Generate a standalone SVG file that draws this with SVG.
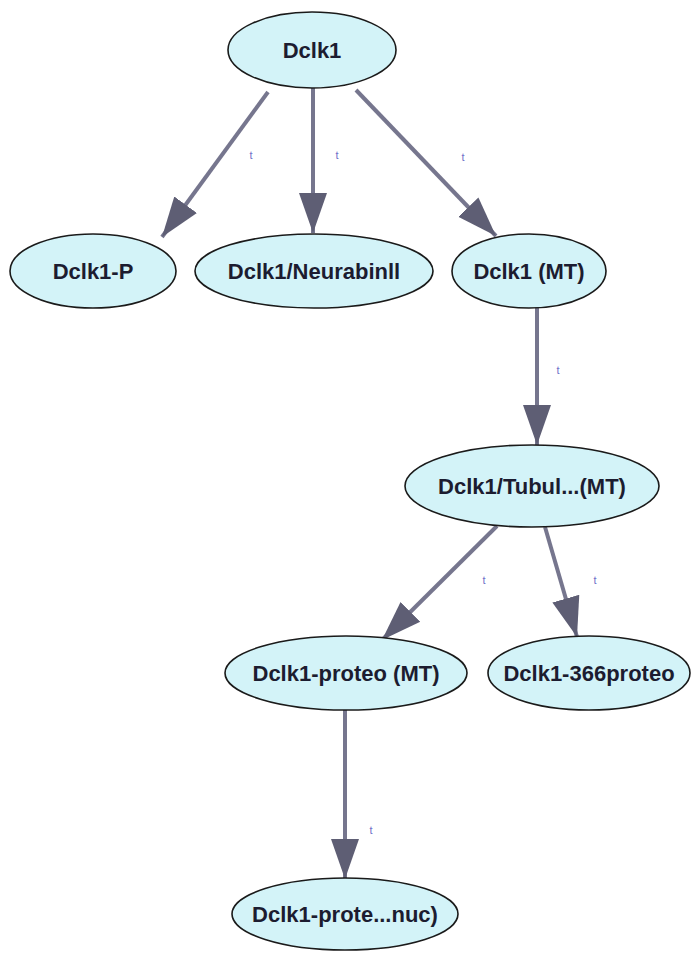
<svg xmlns="http://www.w3.org/2000/svg" width="695" height="953" viewBox="0 0 695 953">
<style>
.node ellipse{fill:#d3f3f8;stroke:#1a1a1a;stroke-width:1.6}
.node text{font-family:"Liberation Sans",Arial,sans-serif;font-weight:bold;font-size:22px;fill:#1c1c30;text-anchor:middle}
.edge{stroke:#76768e;stroke-width:4;fill:none}
.lbl{font-family:"Liberation Sans",Arial,sans-serif;font-size:11px;fill:#7070c8;text-anchor:middle}
</style>
<defs>
<marker id="arr" markerUnits="userSpaceOnUse" markerWidth="42" markerHeight="32" refX="40" refY="15" orient="auto" viewBox="0 0 42 30">
<path d="M0,1 L40,15 L0,29 Z" fill="#5e5e74"/>
</marker>
</defs>
<rect width="695" height="953" fill="#ffffff"/>
<g id="connectors">
<line class="edge" x1="268" y1="92" x2="162" y2="237" marker-end="url(#arr)"/>
<line class="edge" x1="313" y1="88" x2="313" y2="233" marker-end="url(#arr)"/>
<line class="edge" x1="356" y1="90" x2="496" y2="236" marker-end="url(#arr)"/>
<line class="edge" x1="537" y1="307" x2="537" y2="445" marker-end="url(#arr)"/>
<line class="edge" x1="497" y1="526" x2="382" y2="640" marker-end="url(#arr)"/>
<line class="edge" x1="545" y1="527" x2="577" y2="637" marker-end="url(#arr)"/>
<line class="edge" x1="345" y1="710" x2="345" y2="879" marker-end="url(#arr)"/>
<text class="lbl" x="251" y="159">t</text>
<text class="lbl" x="337" y="159">t</text>
<text class="lbl" x="463" y="161">t</text>
<text class="lbl" x="558" y="374">t</text>
<text class="lbl" x="484" y="584">t</text>
<text class="lbl" x="595" y="584">t</text>
<text class="lbl" x="371" y="834">t</text>
</g>
<g id="n_dclk1" class="node"><ellipse cx="312" cy="50" rx="84" ry="38"/><text x="312" y="58">Dclk1</text></g>
<g id="n_dclk1p" class="node"><ellipse cx="93" cy="271" rx="83" ry="37"/><text x="93" y="279">Dclk1-P</text></g>
<g id="n_neurabin" class="node"><ellipse cx="314" cy="271" rx="119" ry="37"/><text x="314" y="279">Dclk1/Neurabinll</text></g>
<g id="n_mt" class="node"><ellipse cx="529" cy="271" rx="77" ry="37"/><text x="529" y="279">Dclk1 (MT)</text></g>
<g id="n_tubul" class="node"><ellipse cx="532" cy="486" rx="127" ry="41"/><text x="532" y="494">Dclk1/Tubul...(MT)</text></g>
<g id="n_proteo_mt" class="node"><ellipse cx="346" cy="673" rx="121" ry="37"/><text x="346" y="681">Dclk1-proteo (MT)</text></g>
<g id="n_366" class="node"><ellipse cx="589" cy="673" rx="101" ry="37"/><text x="589" y="681">Dclk1-366proteo</text></g>
<g id="n_nuc" class="node"><ellipse cx="345" cy="914" rx="113" ry="36"/><text x="345" y="922">Dclk1-prote...nuc)</text></g>
</svg>
